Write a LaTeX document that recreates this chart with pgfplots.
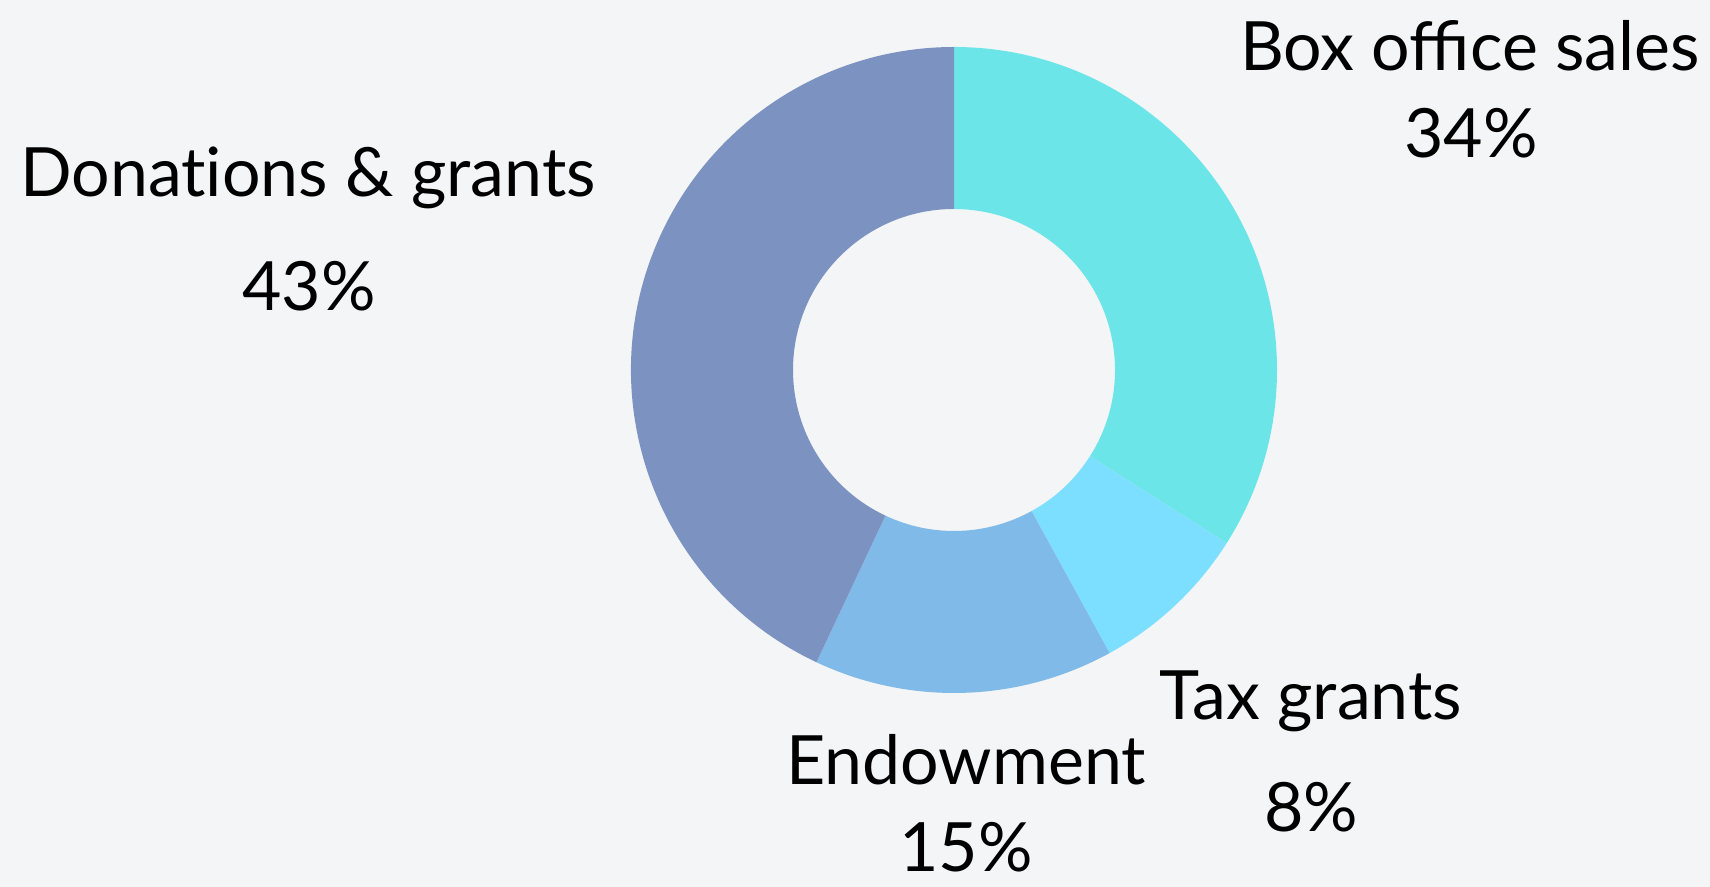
\documentclass[border=0pt]{standalone}
\usepackage{pgfplots}
\usepackage{pgfplotstable}
\pgfplotsset{compat=1.18}
\usepackage{fontspec}
\setmainfont{Lato}

\definecolor{bg}{HTML}{F3F5F7}
\definecolor{boxc}{HTML}{6CE5E8}
\definecolor{taxc}{HTML}{7DDFFF}
\definecolor{endc}{HTML}{80BAE8}
\definecolor{donc}{HTML}{7C93C2}

% revenue shares, percent, clockwise from 12 o'clock
\pgfplotstableread{
name share
Box   34
Tax   8
Endow 15
Don   43
}\shares

% one donut slice: colour, start angle, end angle (centre 954,517 px; radii 323/161 px)
\newcommand\slice[3]{%
  \fill[#1] (axis cs:{954+323*cos(#2)},{517+323*sin(#2)})
    arc[start angle=#2, end angle=#3, radius=161.5pt]
    -- (axis cs:{954+161*cos(#3)},{517+161*sin(#3)})
    arc[start angle=#3, end angle=#2, radius=80.5pt] -- cycle;}

\tikzset{lbl/.style={font=\fontsize{34}{40}\selectfont, inner sep=0pt, anchor=base}}

\begin{document}
\begin{tikzpicture}
\pgfplotstablegetelem{0}{share}\of\shares \let\sA\pgfplotsretval
\pgfplotstablegetelem{1}{share}\of\shares \let\sB\pgfplotsretval
\pgfplotstablegetelem{2}{share}\of\shares \let\sC\pgfplotsretval
\pgfplotstablegetelem{3}{share}\of\shares \let\sD\pgfplotsretval
\pgfmathsetmacro\aA{90}
\pgfmathsetmacro\aB{\aA-3.6*\sA}
\pgfmathsetmacro\aC{\aB-3.6*\sB}
\pgfmathsetmacro\aD{\aC-3.6*\sC}
\pgfmathsetmacro\aE{\aD-3.6*\sD}
\begin{axis}[
    scale only axis,
    width=855pt, height=443.5pt,
    xmin=0, xmax=1710, ymin=0, ymax=887,
    hide axis,
  ]
  \fill[bg] (axis cs:0,0) rectangle (axis cs:1710,887);
  \coordinate (sw) at (axis cs:0,0);
  \coordinate (ne) at (axis cs:1710,887);

  \slice{boxc}{\aA}{\aB}
  \slice{taxc}{\aB}{\aC}
  \slice{endc}{\aC}{\aD}
  \slice{donc}{\aD}{\aE}

  \node[lbl] at (axis cs:1470,816) {Box office sales};
  \node[lbl] at (axis cs:1471,729) {\sA\%};
  \node[lbl] at (axis cs:1311,167) {Tax grants};
  \node[lbl] at (axis cs:1311,55) {\sB\%};
  \node[lbl] at (axis cs:966,102) {Endowment};
  \node[lbl] at (axis cs:966,15) {\sC\%};
  \node[lbl] at (axis cs:308,690) {Donat\kern0pt ions \& grants};
  \node[lbl] at (axis cs:309,576) {\sD\%};
\end{axis}
\pgfresetboundingbox
\path[use as bounding box] (sw) rectangle (ne);
\end{tikzpicture}
\end{document}
